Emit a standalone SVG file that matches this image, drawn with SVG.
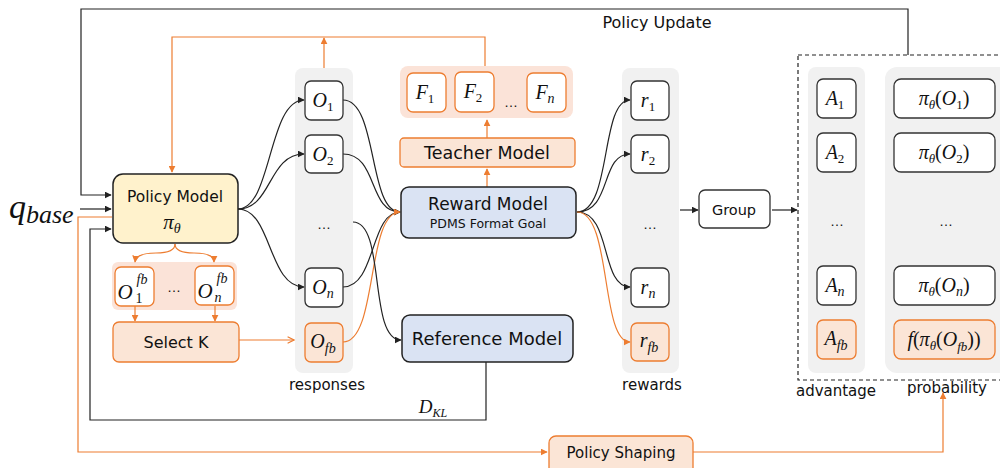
<svg xmlns="http://www.w3.org/2000/svg" width="1000" height="468" viewBox="0 0 1000 468">
<defs>
<style>
.t{font-family:"DejaVu Sans","Liberation Sans",sans-serif;fill:#111;text-anchor:middle}
.m{font-family:"Liberation Serif","DejaVu Serif",serif;font-style:italic;fill:#111;text-anchor:middle}
.up{font-style:normal}
.dots{font-family:"Liberation Sans",sans-serif;fill:#111;text-anchor:middle;font-size:14px}
.panel{fill:#f1f1f1}
.box{fill:#fff;stroke:#333;stroke-width:1.3}
.obox{fill:#fbe5d6;stroke:#ed7d31;stroke-width:1.3}
.wobox{fill:#fff;stroke:#ed7d31;stroke-width:1.3}
.bbox{fill:#dae3f3;stroke:#222;stroke-width:1.5}
.k{fill:none;stroke:#222;stroke-width:1.2}
.o{fill:none;stroke:#ed7d31;stroke-width:1.2}
</style>
<marker id="ak" viewBox="0 0 10 10" refX="9" refY="5" markerWidth="7" markerHeight="7" markerUnits="userSpaceOnUse" orient="auto"><path d="M0,0 L10,5 L0,10 z" fill="#222"/></marker>
<marker id="ao" viewBox="0 0 10 10" refX="9" refY="5" markerWidth="7" markerHeight="7" markerUnits="userSpaceOnUse" orient="auto"><path d="M0,0 L10,5 L0,10 z" fill="#ed7d31"/></marker>
<marker id="aoo" viewBox="0 0 10 10" refX="9" refY="5" markerWidth="8" markerHeight="8" markerUnits="userSpaceOnUse" orient="auto"><path d="M1,1 L9,5 L1,9" fill="none" stroke="#ed7d31" stroke-width="1.4"/></marker>
</defs>

<g id="panels">
<rect class="panel" x="295" y="68" width="58" height="305" rx="8"/>
<rect class="panel" x="622" y="68" width="57" height="305" rx="8"/>
<rect class="panel" x="808" y="67" width="57" height="306" rx="8"/>
<rect class="panel" x="885" y="67" width="130" height="306" rx="12"/>
<rect x="112" y="262" width="125" height="48" rx="6" fill="#fbe3d8"/>
<rect x="400" y="66" width="173" height="52" rx="8" fill="#fbe3d8"/>
</g>

<g id="connectors">
<path class="k" d="M908,55 V9 H81 V195 H111" marker-end="url(#ak)"/>
<text class="t" x="657" y="28" font-size="16">Policy Update</text>
<path class="o" d="M485,66 V37 H172 V172" marker-end="url(#ao)"/>
<path class="o" d="M324,68 V38" marker-end="url(#ao)"/>
<path class="k" d="M80,209 H111" marker-end="url(#ak)"/>
<path class="k" d="M486,362 V420 H90 V229 H111" marker-end="url(#ak)"/>
<path class="o" d="M112,217 H78 V452 H547" marker-end="url(#ao)"/>
<path class="o" d="M693,452 H943 V393" marker-end="url(#ao)"/>
<path class="o" d="M175,244 Q175,253 156,253 Q136,253 135,262" marker-end="url(#ao)"/>
<path class="o" d="M175,244 Q175,253 194,253 Q214,253 214,262" marker-end="url(#ao)"/>
<path class="o" d="M135,306 V321" marker-end="url(#ao)"/>
<path class="o" d="M215,306 V321" marker-end="url(#ao)"/>
<path class="o" d="M239,340 H294" marker-end="url(#aoo)"/>
<path class="k" d="M238,209 C272,209 268,100 304,100" marker-end="url(#ak)"/>
<path class="k" d="M238,209 C272,209 268,154 304,154" marker-end="url(#ak)"/>
<path class="k" d="M238,209 C272,209 268,287 304,287" marker-end="url(#ak)"/>
<path class="k" d="M343,100 C378,100 368,212 400,212" marker-end="url(#ak)"/>
<path class="k" d="M343,154 C378,154 368,212 400,212" marker-end="url(#ak)"/>
<path class="k" d="M343,287 C376,287 370,212 400,212" marker-end="url(#ak)"/>
<path class="o" d="M343,342 C378,342 366,212 400,212" marker-end="url(#ao)"/>
<path class="k" d="M353,222 C386,222 368,340 401,340" marker-end="url(#ak)"/>
<path class="o" d="M487,187 V169" marker-end="url(#ao)"/>
<path class="o" d="M487,138 V120" marker-end="url(#ao)"/>
<path class="k" d="M577,212 C612,212 600,100 630,100" marker-end="url(#ak)"/>
<path class="k" d="M577,212 C612,212 600,154 630,154" marker-end="url(#ak)"/>
<path class="k" d="M577,212 C612,212 600,287 630,287" marker-end="url(#ak)"/>
<path class="o" d="M577,212 C612,212 600,342 630,342" marker-end="url(#ao)"/>
<path class="k" d="M680,210 H698" marker-end="url(#ak)"/>
<path class="k" d="M772,210 H797" marker-end="url(#ak)"/>
<rect x="798" y="55" width="220" height="325" fill="none" stroke="#222" stroke-width="1.2" stroke-dasharray="4,3"/>
<text class="m" x="433" y="413" font-size="19">D<tspan font-size="12" dy="4">KL</tspan></text>
</g>

<g id="q">
<text class="m" x="9" y="218" font-size="34" style="text-anchor:start">q<tspan font-size="26" dy="5">base</tspan></text>
</g>

<g id="policy">
<rect x="113" y="174" width="125" height="69" rx="10" fill="#fff2cc" stroke="#222" stroke-width="1.5"/>
<text class="t" x="175" y="202" font-size="15.5">Policy Model</text>
<text class="m" x="172" y="229" font-size="21">π<tspan font-size="14" dy="4">θ</tspan></text>
</g>

<g id="fb">
<rect class="wobox" x="115" y="267" width="39" height="39" rx="6"/>
<text class="m" x="125" y="299" font-size="21">O</text>
<text class="m up" x="139" y="303" font-size="14">1</text>
<text class="m" x="142" y="284" font-size="14">fb</text>
<text class="dots" x="174" y="292">…</text>
<rect class="wobox" x="195" y="266" width="39" height="39" rx="6"/>
<text class="m" x="205" y="298" font-size="21">O</text>
<text class="m" x="218" y="302" font-size="14">n</text>
<text class="m" x="222" y="283" font-size="14">fb</text>
</g>

<g id="selectk">
<rect class="obox" x="113" y="322" width="126" height="40" rx="6"/>
<text class="t" x="176" y="348" font-size="16">Select K</text>
</g>

<g id="responses">
<rect class="box" x="305" y="81" width="38" height="39" rx="6"/>
<text class="m" x="323" y="107" font-size="20">O<tspan class="up" font-size="13" dy="4">1</tspan></text>
<rect class="box" x="305" y="135" width="38" height="38" rx="6"/>
<text class="m" x="323" y="161" font-size="20">O<tspan class="up" font-size="13" dy="4">2</tspan></text>
<text class="dots" x="324" y="229">…</text>
<rect class="box" x="305" y="268" width="38" height="39" rx="6"/>
<text class="m" x="323" y="294" font-size="20">O<tspan font-size="14" dy="4">n</tspan></text>
<rect class="obox" x="305" y="323" width="38" height="39" rx="6"/>
<text class="m" x="323" y="348" font-size="20">O<tspan font-size="14" dy="5">fb</tspan></text>
<text class="t" x="327" y="390" font-size="15">responses</text>
</g>

<g id="feedback">
<rect class="wobox" x="407" y="73" width="39" height="39" rx="6"/>
<text class="m" x="425" y="99" font-size="20">F<tspan class="up" font-size="13" dy="4">1</tspan></text>
<rect class="wobox" x="455" y="72" width="39" height="40" rx="6"/>
<text class="m" x="473" y="98" font-size="20">F<tspan class="up" font-size="13" dy="4">2</tspan></text>
<text class="dots" x="511" y="107">…</text>
<rect class="wobox" x="527" y="73" width="39" height="39" rx="6"/>
<text class="m" x="545" y="99" font-size="20">F<tspan font-size="14" dy="4">n</tspan></text>
</g>

<g id="teacher">
<rect class="obox" x="400" y="138" width="175" height="29" rx="4"/>
<text class="t" x="487" y="159" font-size="17.5">Teacher Model</text>
</g>

<g id="reward">
<rect class="bbox" x="401" y="187" width="175" height="51" rx="8"/>
<text class="t" x="488" y="210" font-size="17">Reward Model</text>
<text class="t" x="488" y="228" font-size="12.5">PDMS Format Goal</text>
</g>

<g id="reference">
<rect class="bbox" x="402" y="315" width="171" height="47" rx="8"/>
<text class="t" x="487" y="345" font-size="18">Reference Model</text>
</g>

<g id="rewards">
<rect class="box" x="631" y="81" width="38" height="39" rx="6"/>
<text class="m" x="648" y="107" font-size="20">r<tspan class="up" font-size="13" dy="4">1</tspan></text>
<rect class="box" x="631" y="135" width="38" height="38" rx="6"/>
<text class="m" x="648" y="161" font-size="20">r<tspan class="up" font-size="13" dy="4">2</tspan></text>
<text class="dots" x="650" y="229">…</text>
<rect class="box" x="631" y="268" width="38" height="39" rx="6"/>
<text class="m" x="648" y="294" font-size="20">r<tspan font-size="14" dy="4">n</tspan></text>
<rect class="obox" x="631" y="323" width="38" height="38" rx="6"/>
<text class="m" x="649" y="347" font-size="20">r<tspan font-size="14" dy="5">fb</tspan></text>
<text class="t" x="652" y="390" font-size="15">rewards</text>
</g>

<g id="group">
<rect class="box" x="699" y="190" width="71" height="38" rx="6"/>
<text class="t" x="734" y="215" font-size="14.5">Group</text>
</g>

<g id="advantage">
<rect class="box" x="817" y="79" width="39" height="39" rx="6"/>
<text class="m" x="835" y="105" font-size="20">A<tspan class="up" font-size="13" dy="4">1</tspan></text>
<rect class="box" x="817" y="133" width="39" height="39" rx="6"/>
<text class="m" x="835" y="159" font-size="20">A<tspan class="up" font-size="13" dy="4">2</tspan></text>
<text class="dots" x="837" y="226">…</text>
<rect class="box" x="817" y="266" width="39" height="39" rx="6"/>
<text class="m" x="835" y="292" font-size="20">A<tspan font-size="14" dy="4">n</tspan></text>
<rect class="obox" x="817" y="320" width="39" height="39" rx="6"/>
<text class="m" x="836" y="345" font-size="20">A<tspan font-size="14" dy="5">fb</tspan></text>
<text class="t" x="836" y="396" font-size="15">advantage</text>
</g>

<g id="probability">
<rect class="box" x="894" y="79" width="101" height="39" rx="7"/>
<text class="m" x="944" y="105" font-size="20">π<tspan font-size="13" dy="4">θ</tspan><tspan class="up" dy="-4">(</tspan>O<tspan class="up" font-size="13" dy="4">1</tspan><tspan class="up" dy="-4">)</tspan></text>
<rect class="box" x="894" y="133" width="101" height="39" rx="7"/>
<text class="m" x="944" y="159" font-size="20">π<tspan font-size="13" dy="4">θ</tspan><tspan class="up" dy="-4">(</tspan>O<tspan class="up" font-size="13" dy="4">2</tspan><tspan class="up" dy="-4">)</tspan></text>
<text class="dots" x="946" y="226">…</text>
<rect class="box" x="894" y="266" width="101" height="39" rx="7"/>
<text class="m" x="944" y="292" font-size="20">π<tspan font-size="13" dy="4">θ</tspan><tspan class="up" dy="-4">(</tspan>O<tspan font-size="14" dy="4">n</tspan><tspan class="up" dy="-4">)</tspan></text>
<rect class="obox" x="894" y="320" width="101" height="39" rx="7"/>
<text class="m" x="944" y="346" font-size="20">f<tspan class="up">(</tspan>π<tspan font-size="13" dy="4">θ</tspan><tspan class="up" dy="-4">(</tspan>O<tspan font-size="13" dy="5">fb</tspan><tspan class="up" dy="-5">))</tspan></text>
<text class="t" x="947" y="393" font-size="15">probability</text>
</g>

<g id="shaping">
<rect class="obox" x="549" y="436" width="144" height="40" rx="7"/>
<text class="t" x="621" y="458" font-size="15">Policy Shaping</text>
</g>
</svg>
